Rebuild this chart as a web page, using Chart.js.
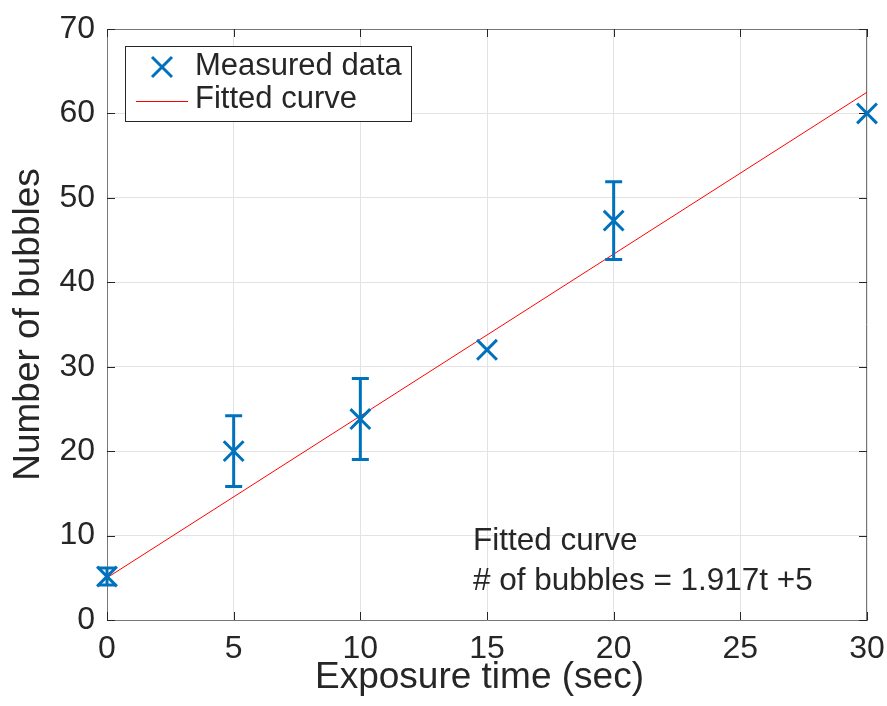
<!DOCTYPE html>
<html>
<head>
<meta charset="utf-8">
<script src="https://cdn.jsdelivr.net/npm/chart.js@4/dist/chart.umd.min.js"></script>
<style>
  html, body { margin: 0; padding: 0; background: #ffffff; }
  #wrap { width: 887px; height: 706px; }
</style>
</head>
<body>
<div id="wrap"><canvas id="c" width="887" height="706"></canvas></div>
<script>
// ---- data ----
const exposureTime = [0, 5, 10, 15, 20, 30];
const bubbleCount  = [5.15, 20.0, 23.8, 32.0, 47.3, 60.0];
const bubbleError  = [1.0, 4.2, 4.8, 0, 4.6, 0];
const fitX = [0, 30];
const fitY = [5, 62.51];
const xTickValues = [0, 5, 10, 15, 20, 25, 30];
const yTickValues = [0, 10, 20, 30, 40, 50, 60, 70];
const legendLabels = ['Measured data', 'Fitted curve'];
const annotationLines = ['Fitted curve', '# of bubbles = 1.917t +5'];
const xTitle = 'Exposure time (sec)';
const yTitle = 'Number of bubbles';

const BLUE = '#0072BD';
const RED = '#FF0000';
const TEXT = '#262626';
const FONT = "'Liberation Sans', Arial, Helvetica, sans-serif";

const measured = exposureTime.map((t, i) => ({ x: t, y: bubbleCount[i], e: bubbleError[i] }));
const fitted = fitX.map((t, i) => ({ x: t, y: fitY[i] }));

const decorPlugin = {
  id: 'decor',
  beforeDatasetsDraw(chart) {
    const { ctx, chartArea: a, scales } = chart;
    ctx.save();
    // box top & right
    ctx.strokeStyle = '#777777';
    ctx.lineWidth = 1;
    ctx.beginPath();
    ctx.moveTo(a.left, a.top + 0.5); ctx.lineTo(a.right, a.top + 0.5);
    ctx.moveTo(a.right - 0.5, a.top); ctx.lineTo(a.right - 0.5, a.bottom);
    ctx.stroke();
    // inward ticks
    ctx.strokeStyle = TEXT;
    const tl = 8;
    ctx.beginPath();
    xTickValues.forEach(v => {
      const px = Math.round(scales.x.getPixelForValue(v)) + 0.5;
      ctx.moveTo(px, a.bottom); ctx.lineTo(px, a.bottom - tl);
      ctx.moveTo(px, a.top); ctx.lineTo(px, a.top + tl);
    });
    yTickValues.forEach(v => {
      const py = Math.round(scales.y.getPixelForValue(v)) + 0.5;
      ctx.moveTo(a.left, py); ctx.lineTo(a.left + tl, py);
      ctx.moveTo(a.right, py); ctx.lineTo(a.right - tl, py);
    });
    ctx.stroke();
    ctx.restore();
  },
  afterDatasetsDraw(chart) {
    const { ctx, chartArea: a, scales } = chart;
    ctx.save();
    // error bars
    ctx.strokeStyle = BLUE;
    ctx.lineWidth = 3;
    ctx.lineCap = 'butt';
    const cap = 8.5;
    measured.forEach(p => {
      if (!p.e) return;
      const px = scales.x.getPixelForValue(p.x);
      const y1 = scales.y.getPixelForValue(p.y + p.e);
      const y0 = scales.y.getPixelForValue(p.y - p.e);
      ctx.beginPath();
      ctx.moveTo(px, y0); ctx.lineTo(px, y1);
      ctx.moveTo(px - cap, y1); ctx.lineTo(px + cap, y1);
      ctx.moveTo(px - cap, y0); ctx.lineTo(px + cap, y0);
      ctx.stroke();
    });
    // legend
    const lx = a.left + 18, ly = a.top + 17, lw = 286, lh = 75;
    ctx.fillStyle = '#ffffff';
    ctx.fillRect(lx, ly, lw, lh);
    ctx.strokeStyle = TEXT;
    ctx.lineWidth = 1;
    ctx.strokeRect(lx + 0.5, ly + 0.5, lw, lh);
    // cross marker
    const cx = lx + 37, cy = ly + 21, r = 10;
    ctx.strokeStyle = BLUE;
    ctx.lineWidth = 3;
    ctx.beginPath();
    ctx.moveTo(cx - r, cy - r); ctx.lineTo(cx + r, cy + r);
    ctx.moveTo(cx - r, cy + r); ctx.lineTo(cx + r, cy - r);
    ctx.stroke();
    // red line sample
    ctx.strokeStyle = RED;
    ctx.lineWidth = 1;
    ctx.beginPath();
    ctx.moveTo(lx + 11, ly + 55.5); ctx.lineTo(lx + 63, ly + 55.5);
    ctx.stroke();
    ctx.fillStyle = TEXT;
    ctx.font = '31px ' + FONT;
    ctx.textBaseline = 'alphabetic';
    ctx.textAlign = 'left';
    ctx.fillText(legendLabels[0], lx + 70, ly + 29);
    ctx.fillText(legendLabels[1], lx + 70, ly + 62);
    // annotation
    ctx.font = '31.5px ' + FONT;
    ctx.fillText(annotationLines[0], a.left + 366, a.bottom - 70);
    ctx.fillText(annotationLines[1], a.left + 366, a.bottom - 30);
    // x axis title
    ctx.font = '37px ' + FONT;
    ctx.fillText(xTitle, a.left + 208, 688);
    ctx.restore();
  }
};

new Chart(document.getElementById('c'), {
  type: 'scatter',
  data: {
    datasets: [
      {
        type: 'line',
        label: legendLabels[1],
        data: fitted,
        borderColor: RED,
        borderWidth: 1,
        pointRadius: 0,
        fill: false,
        tension: 0,
        order: 2
      },
      {
        label: legendLabels[0],
        data: measured,
        pointStyle: 'crossRot',
        pointRadius: 14,
        pointHoverRadius: 14,
        borderColor: BLUE,
        backgroundColor: BLUE,
        borderWidth: 3,
        pointBorderWidth: 3,
        clip: false,
        order: 1
      }
    ]
  },
  options: {
    responsive: false,
    animation: false,
    devicePixelRatio: 1,
    layout: { padding: { top: 29, right: 20, left: 0, bottom: 0 } },
    plugins: { legend: { display: false }, tooltip: { enabled: false } },
    scales: {
      x: {
        type: 'linear',
        min: 0, max: 30,
        afterFit: s => { s.height = 86; s.paddingLeft = 0; s.paddingRight = 0; },
        afterBuildTicks: s => { s.ticks = xTickValues.map(v => ({ value: v })); },
        ticks: { color: TEXT, font: { family: FONT, size: 32 }, padding: 10, maxRotation: 0, autoSkip: false },
        grid: { color: '#e3e3e3', lineWidth: 1, drawTicks: false },
        border: { display: true, color: '#777777', width: 1 },
        title: { display: false, text: xTitle }
      },
      y: {
        type: 'linear',
        min: 0, max: 70,
        afterFit: s => { s.width = 107; s.paddingTop = 0; s.paddingBottom = 0; },
        afterBuildTicks: s => { s.ticks = yTickValues.map(v => ({ value: v })); },
        ticks: { color: TEXT, font: { family: FONT, size: 32 }, padding: 12, autoSkip: false },
        grid: { color: '#e3e3e3', lineWidth: 1, drawTicks: false },
        border: { display: true, color: '#777777', width: 1 },
        title: { display: true, text: yTitle, color: TEXT, font: { family: FONT, size: 37 }, padding: { top: 7, bottom: 0 } }
      }
    }
  },
  plugins: [decorPlugin]
});
</script>
</body>
</html>
